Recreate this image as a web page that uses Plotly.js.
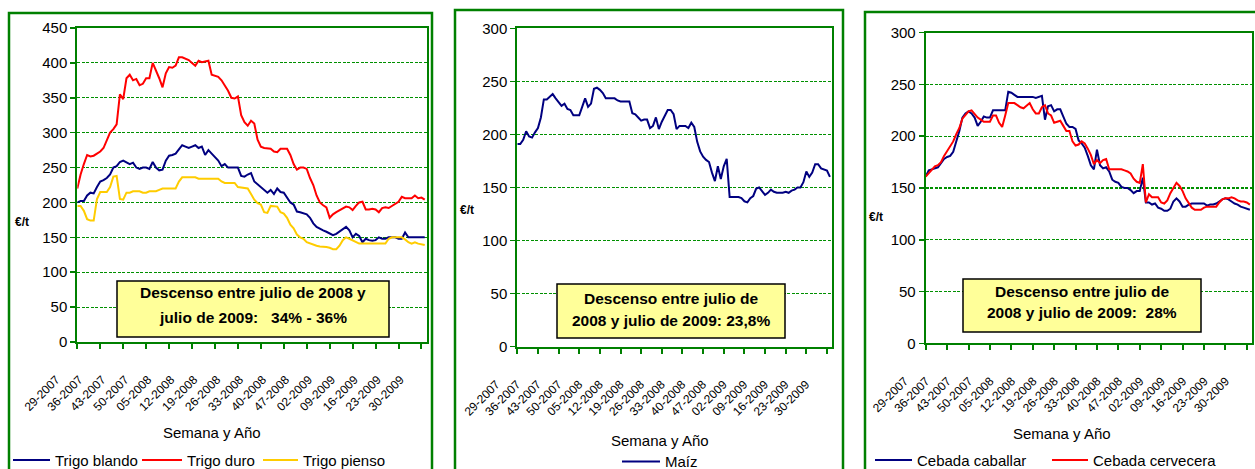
<!DOCTYPE html>
<html>
<head>
<meta charset="utf-8">
<script src="https://cdn.plot.ly/plotly-3.0.1.min.js"></script>
<style>html,body{margin:0;padding:0;background:#fff;}#chart{width:1255px;height:469px;}</style>
</head>
<body>
<div id="chart"></div>
<script>
// ---------- DATA ----------
const tickLabels = ['29-2007','36-2007','43-2007','50-2007','05-2008','12-2008','19-2008','26-2008',
  '33-2008','40-2008','47-2008','02-2009','09-2009','16-2009','23-2009','30-2009'];

// weekly categories starting at week 29 of 2007
const weeks = [];
(function(){ let w = 29, yr = 2007; for (let i = 0; i < 107; i++) { weeks.push((w < 10 ? '0' : '') + w + '-' + yr); w++; if (w > 52) { w = 1; yr++; } } })();

const trigoBlando = [200,202,202,210,214,213,222,230,232,235,
  240,250,252,258,260,258,255,257,250,248,
  250,250,248,258,250,246,247,260,267,268,
  270,276,282,280,278,280,282,278,280,268,
  275,270,265,260,252,255,250,250,250,250,
  238,237,240,242,230,226,222,218,214,218,
  212,220,215,214,206,200,197,187,186,185,
  183,178,170,165,162,160,158,156,153,155,
  158,161,165,160,150,155,152,143,148,146,
  145,146,150,148,148,150,150,150,148,148,
  157,150,150,150,150,150,150];

const trigoDuro = [220,240,255,268,266,267,270,273,278,290,
  300,305,312,355,348,378,383,375,377,368,
  370,378,378,400,390,378,365,385,394,393,
  396,408,408,406,404,400,396,403,401,402,
  403,383,381,380,375,368,360,350,349,352,
  325,315,310,317,313,290,280,278,277,277,
  273,272,277,277,277,268,255,247,250,250,
  248,235,225,210,200,196,193,178,183,186,
  189,192,194,193,189,195,200,201,190,190,
  191,190,186,192,193,192,195,198,201,208,
  206,206,206,210,206,207,204];

const trigoPienso = [195,195,188,176,174,174,205,215,215,215,
  222,237,238,205,204,214,214,216,216,216,
  214,214,216,216,216,218,220,220,220,220,
  220,230,236,236,236,236,236,234,234,234,
  234,234,234,234,230,228,228,228,228,222,
  221,220,220,212,204,199,197,186,185,195,
  195,194,186,184,178,168,163,154,150,148,
  143,141,140,138,137,137,136,135,133,133,
  138,146,150,148,146,143,141,141,141,141,
  141,141,141,141,141,148,150,150,150,150,
  147,143,141,143,141,140,139];

const maiz = [191,191,195,203,198,197,202,206,216,233,
  233,236,238,234,231,227,229,224,223,218,
  218,218,226,234,226,229,243,244,242,239,
  234,234,234,234,232,231,231,231,231,220,
  219,216,213,214,214,206,208,216,205,212,
  218,223,223,219,205,208,208,208,206,211,
  207,193,184,179,176,174,164,156,170,158,
  170,177,141,141,141,141,140,137,136,140,
  142,149,150,147,143,145,148,146,145,145,
  145,146,145,147,148,150,150,155,165,160,
  164,172,172,168,167,166,160];

const cebadaCaballar = [161,167,168,169,170,174,178,180,181,185,
  195,205,218,222,224,222,218,210,214,219,
  218,218,225,225,225,225,225,243,242,240,
  238,238,238,238,238,238,237,238,239,216,
  229,230,224,226,226,219,212,209,209,207,
  196,193,189,181,172,168,187,172,169,170,
  166,158,156,155,151,150,150,148,145,147,
  147,160,136,136,134,135,131,130,128,128,
  130,137,140,137,132,132,134,135,135,135,
  135,135,133,134,134,135,137,139,140,139,
  137,135,134,132,131,130,129];

const cebadaCervecera = [161,164,167,171,172,175,181,186,190,195,
  202,208,217,221,224,225,221,218,216,214,
  214,214,220,220,213,209,220,232,232,232,
  230,228,227,230,232,226,222,222,228,230,
  222,220,213,214,215,210,205,205,195,191,
  192,195,193,188,182,173,177,174,177,178,
  168,168,168,168,168,167,166,164,159,156,
  155,173,136,144,141,141,141,136,135,138,
  145,150,155,152,147,140,135,131,129,129,
  129,131,132,132,132,132,136,139,140,140,
  141,140,138,137,137,136,134];

const boxTexts = [
  ['Descenso entre julio de 2008 y', 'julio de 2009:   34% - 36%'],
  ['Descenso entre julio de', '2008 y julio de 2009: 23,8%'],
  ['Descenso entre julio de', '2008 y julio de 2009:  28%']
];
const xTitle = 'Semana y Año';
const yTitle = '€/t';

// ---------- STYLE / LAYOUT ----------
const W = 1255, H = 469;
const px = x => x / W;
const py = y => 1 - y / H;
const GREEN = '#008000';
const FONT = 'Liberation Sans, Arial, sans-serif';
const NAVY = '#000080', RED = '#ff0000', GOLD = '#ffcc00';

function line(y, name, color, xa, ya) {
  return { x: weeks, y: y, name: name, type: 'scatter', mode: 'lines',
    line: { color: color, width: 2 }, xaxis: xa, yaxis: ya, hoverinfo: 'skip', showlegend: false };
}

const data = [
  line(trigoBlando, 'Trigo blando', NAVY, 'x', 'y'),
  line(trigoDuro, 'Trigo duro', RED, 'x', 'y'),
  line(trigoPienso, 'Trigo pienso', GOLD, 'x', 'y'),
  line(maiz, 'Maíz', NAVY, 'x2', 'y2'),
  line(cebadaCaballar, 'Cebada caballar', NAVY, 'x3', 'y3'),
  line(cebadaCervecera, 'Cebada cervecera', RED, 'x3', 'y3')
];

function xax(x0, x1, anchor) {
  return { domain: [px(x0), px(x1)], anchor: anchor, type: 'category', automargin: false,
    range: [0, 106.6], tickvals: tickLabels, ticktext: tickLabels, tickangle: -45,
    ticks: 'outside', ticklen: 5, tickwidth: 2, tickcolor: GREEN,
    showline: true, linecolor: GREEN, linewidth: 2, mirror: true,
    showgrid: false, zeroline: false, fixedrange: true,
    ticklabelstandoff: 19, ticklabelshift: -21,
    tickfont: { family: FONT, size: 12, color: '#000' } };
}
function yax(y0, y1, max, anchor) {
  return { domain: [py(y1), py(y0)], anchor: anchor, range: [0, max], dtick: 50, automargin: false,
    ticks: 'outside', ticklen: 5, tickwidth: 1.5, tickcolor: GREEN,
    showline: true, linecolor: GREEN, linewidth: 2, mirror: true,
    showgrid: true, gridcolor: '#009000', gridwidth: 1.2, griddash: '3px,1.5px',
    zeroline: false, fixedrange: true,
    tickfont: { family: FONT, size: 15, color: '#000' } };
}

const shapes = [];
const annotations = [];
// outer chart borders
[[9, 432, 13], [455, 843, 10], [865, 1262, 12]].forEach(b => {
  shapes.push({ type: 'rect', xref: 'paper', yref: 'paper', x0: px(b[0]), x1: px(b[1]), y0: py(480), y1: py(b[2]),
    line: { color: GREEN, width: 2.5 }, fillcolor: 'rgba(0,0,0,0)', layer: 'below' });
});
// text boxes
const boxes = [
  { x0: 117, x1: 389, y0: 281, y1: 337, l1: 292.5, l2: 317.5 },
  { x0: 557, x1: 785, y0: 284, y1: 338, l1: 298.5, l2: 320.5 },
  { x0: 963, x1: 1201, y0: 279, y1: 332, l1: 291, l2: 312 }
];
boxes.forEach((b, i) => {
  shapes.push({ type: 'rect', xref: 'paper', yref: 'paper', x0: px(b.x0), x1: px(b.x1), y0: py(b.y1), y1: py(b.y0),
    line: { color: '#000', width: 1.5 }, fillcolor: '#ffff99', layer: 'above' });
  [b.l1, b.l2].forEach((ly, k) => {
    annotations.push({ xref: 'paper', yref: 'paper', x: px((b.x0 + b.x1) / 2), y: py(ly),
      xanchor: 'center', yanchor: 'middle', showarrow: false, text: '<b>' + boxTexts[i][k] + '</b>',
      font: { family: FONT, size: 15.5, color: '#000' } });
  });
});
// x titles
[[212, 432], [660, 440], [1062, 433]].forEach(p => {
  annotations.push({ xref: 'paper', yref: 'paper', x: px(p[0]), y: py(p[1]), xanchor: 'center', yanchor: 'middle',
    showarrow: false, text: xTitle, font: { family: FONT, size: 15, color: '#000' } });
});
// y titles
[[22, 222], [467, 210], [876, 217]].forEach(p => {
  annotations.push({ xref: 'paper', yref: 'paper', x: px(p[0]), y: py(p[1]), xanchor: 'center', yanchor: 'middle',
    showarrow: false, text: '<b>' + yTitle + '</b>', font: { family: FONT, size: 12, color: '#000' } });
});
// legends (drawn as line samples + text, taken from trace names/colours)
const legendPos = [
  { t: 0, x0: 13, x1: 50, y: 460 }, { t: 1, x0: 142, x1: 182, y: 460 }, { t: 2, x0: 263, x1: 298, y: 460 },
  { t: 3, x0: 622, x1: 660, y: 461.5 },
  { t: 4, x0: 875, x1: 912, y: 460 }, { t: 5, x0: 1052, x1: 1088, y: 460 }
];
legendPos.forEach(l => {
  const tr = data[l.t];
  shapes.push({ type: 'line', xref: 'paper', yref: 'paper', x0: px(l.x0), x1: px(l.x1), y0: py(l.y), y1: py(l.y),
    line: { color: tr.line.color, width: 2 } });
  annotations.push({ xref: 'paper', yref: 'paper', x: px(l.x1 + 3), y: py(l.y), xanchor: 'left', yanchor: 'middle',
    showarrow: false, text: tr.name, font: { family: FONT, size: 15, color: '#000' } });
});

const layout = {
  width: W, height: H, margin: { l: 0, r: 0, t: 0, b: 0, autoexpand: false },
  paper_bgcolor: '#fff', plot_bgcolor: '#fff', showlegend: false,
  xaxis: xax(77.3, 426.7, 'y'), yaxis: yax(28, 342, 450, 'x'),
  xaxis2: xax(517.3, 831.7, 'y2'), yaxis2: yax(28.3, 346.7, 300, 'x2'),
  xaxis3: xax(925.7, 1251.7, 'y3'), yaxis3: yax(32.7, 343.3, 300, 'x3'),
  shapes: shapes, annotations: annotations
};

Plotly.newPlot('chart', data, layout, { displayModeBar: false, staticPlot: true });
</script>
</body>
</html>
